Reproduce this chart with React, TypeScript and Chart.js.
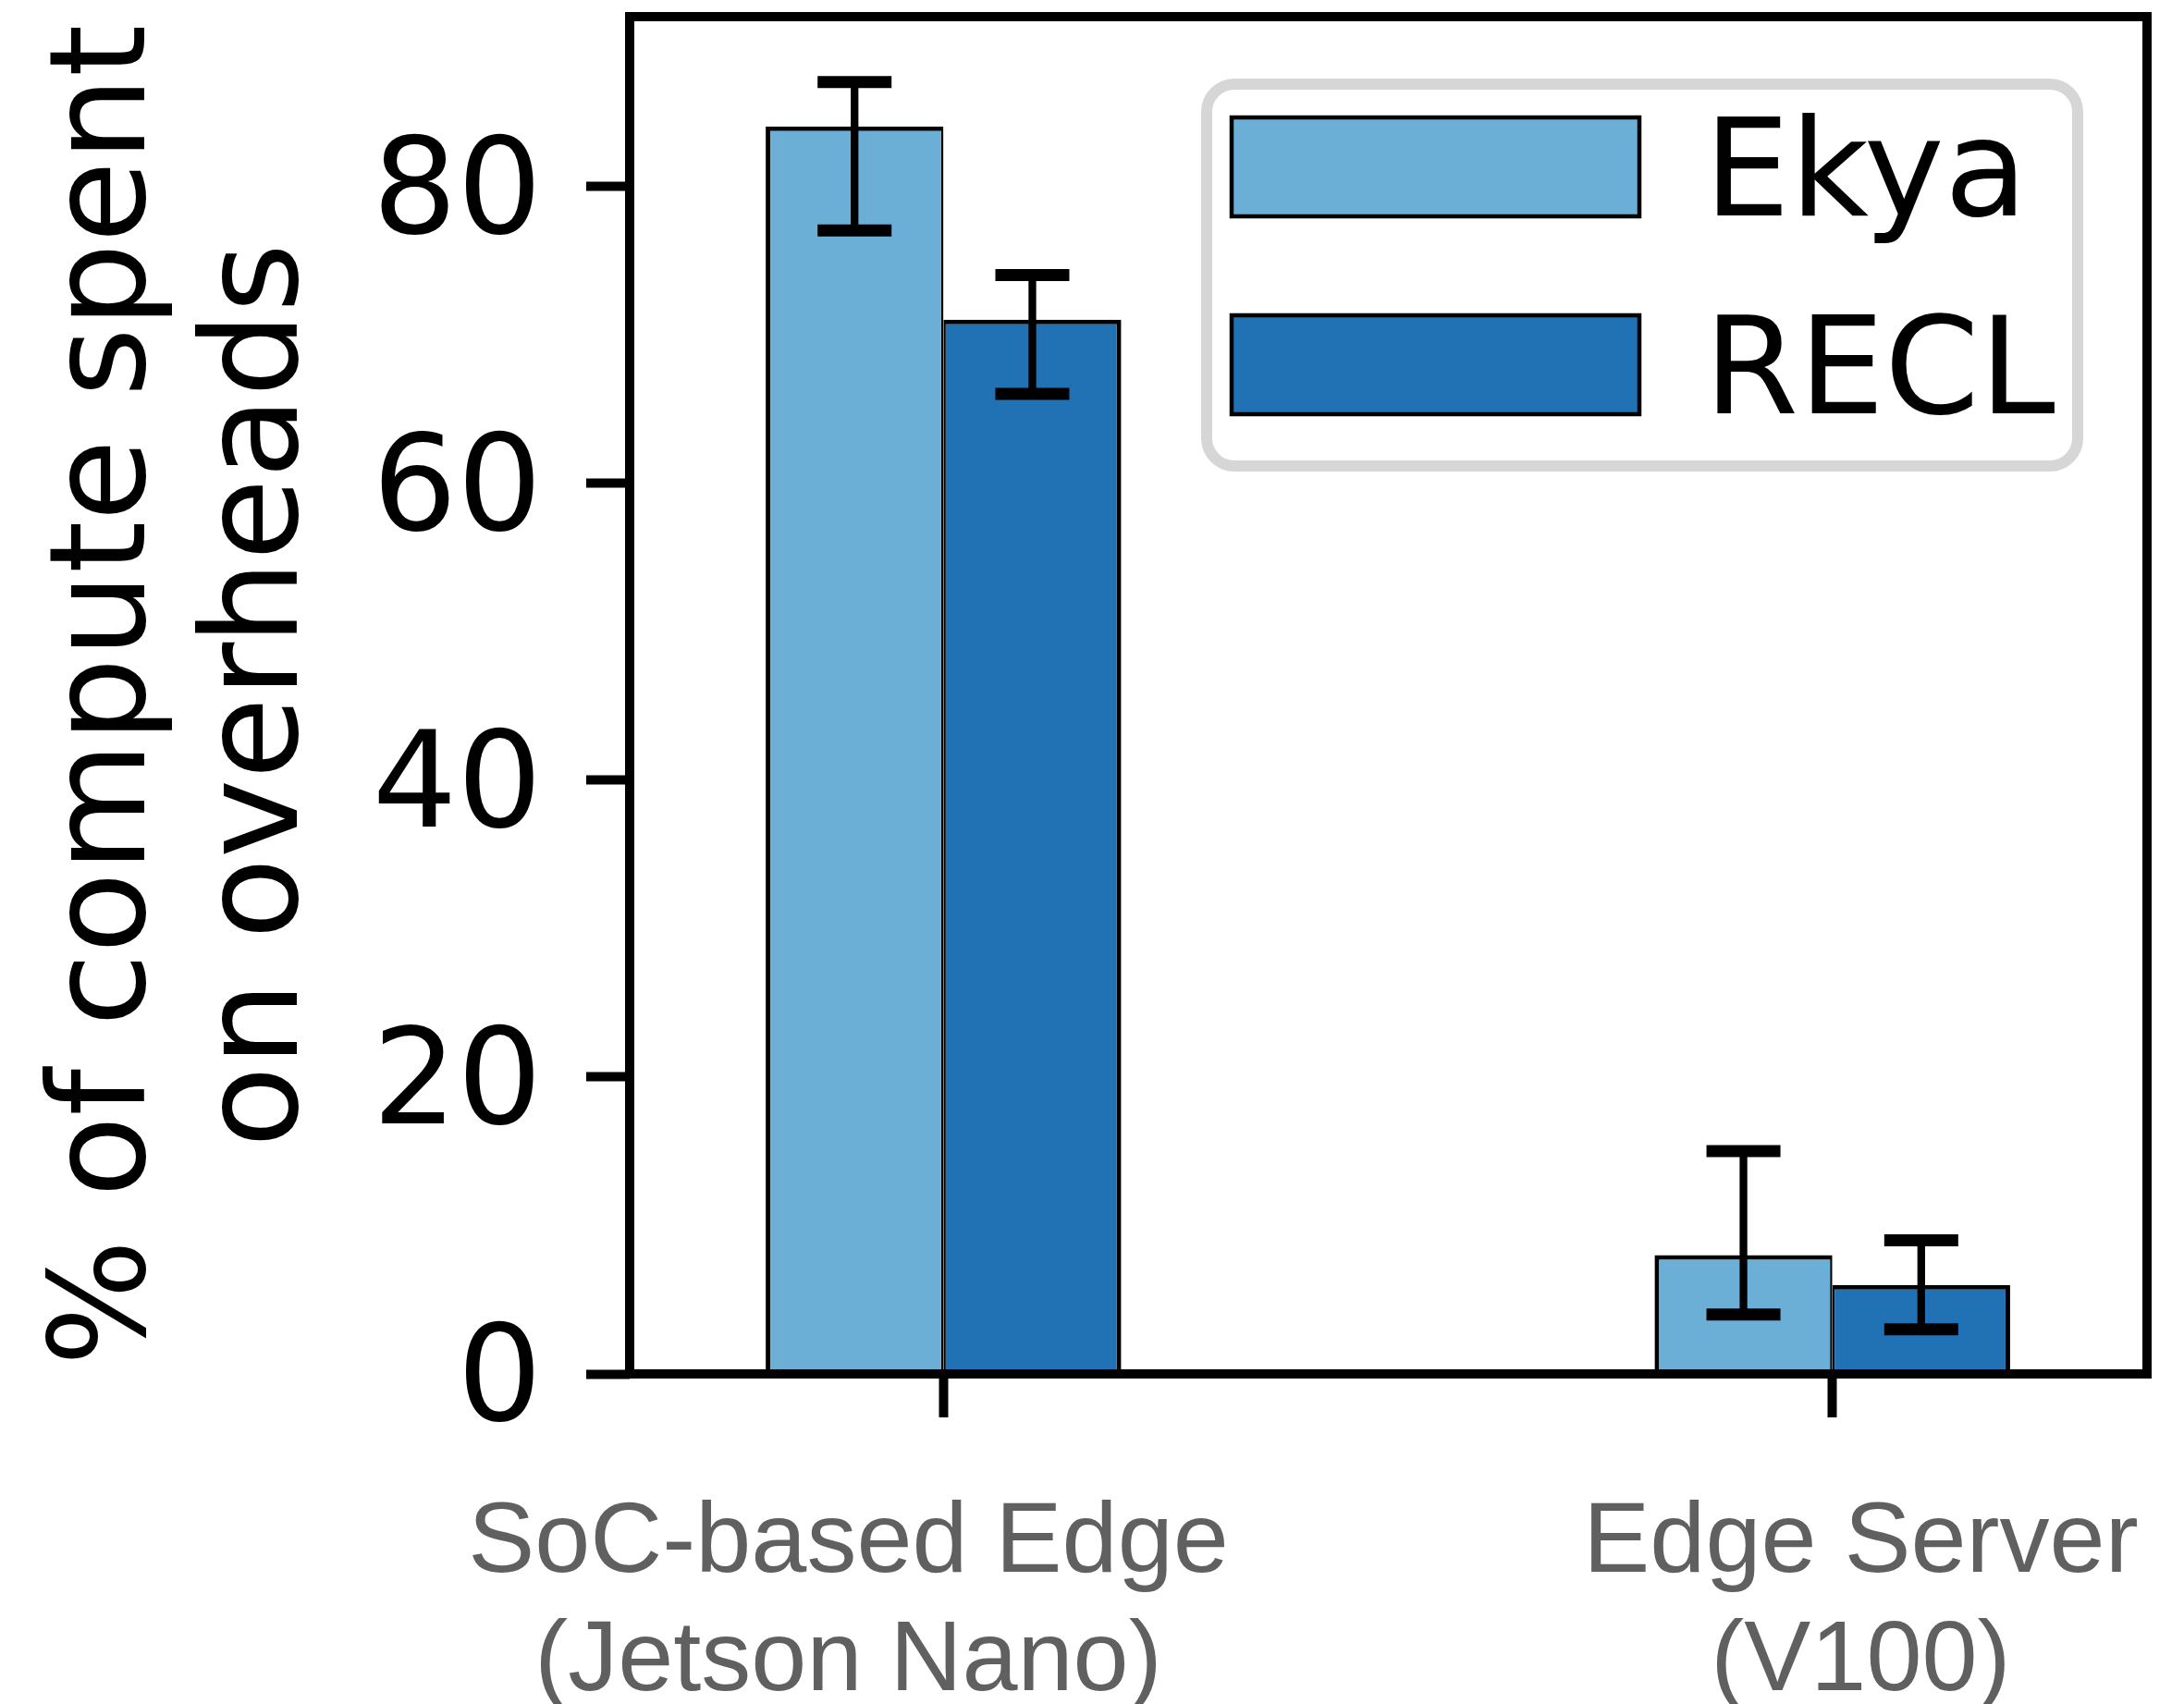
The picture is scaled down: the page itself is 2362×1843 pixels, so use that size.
import React, { useEffect, useRef } from 'react';
import { Chart, registerables } from 'chart.js';

Chart.register(...registerables);

// ---------- data ----------
const CATEGORIES: string[][] = [
  ['SoC-based Edge', '(Jetson Nano)'],
  ['Edge Server', '(V100)'],
];
const CATEGORY_X = [0, 1];
const SERIES_LABELS = ['Ekya', 'RECL'];
const EKYA = [84, 8];
const RECL = [71, 6];
const EKYA_LOW = [77, 4];
const EKYA_HIGH = [87, 15];
const RECL_LOW = [66, 3];
const RECL_HIGH = [74, 9];
const Y_TICKS = [0, 20, 40, 60, 80];

// ---------- layout / style ----------
const W = 2362;
const H = 1843;
const SERIES_COLORS = ['#6baed6', '#2171b5'];
const X_MIN = -0.353;
const X_MAX = 1.354;
const Y_MAX = 91.4;
const LABEL_SHIFT = [-0.107, 0.032];
const AREA_LEFT = 681;
const AREA_BOTTOM = 1486;
const TICK_LEN = 47;

function roundRectPath(ctx: CanvasRenderingContext2D, x: number, y: number, w: number, h: number, r: number) {
  ctx.beginPath();
  ctx.moveTo(x + r, y);
  ctx.arcTo(x + w, y, x + w, y + h, r);
  ctx.arcTo(x + w, y + h, x, y + h, r);
  ctx.arcTo(x, y + h, x, y, r);
  ctx.arcTo(x, y, x + w, y, r);
  ctx.closePath();
}

const framePlugin = {
  id: 'frame',
  afterDatasetsDraw(chart: any) {
    const { ctx, chartArea } = chart;
    ctx.save();
    ctx.strokeStyle = '#000';
    ctx.lineWidth = 10;
    ctx.lineJoin = 'miter';
    ctx.strokeRect(chartArea.left, chartArea.top, chartArea.right - chartArea.left, chartArea.bottom - chartArea.top);
    ctx.restore();
  },
};

const errorBarPlugin = {
  id: 'errorBars',
  afterDatasetsDraw(chart: any) {
    const ctx = chart.ctx;
    const yScale = chart.scales.y;
    chart.data.datasets.forEach((ds: any, i: number) => {
      const meta = chart.getDatasetMeta(i);
      meta.data.forEach((bar: any, j: number) => {
        const x = bar.x;
        const yl = yScale.getPixelForValue(ds.errLow[j]);
        const yh = yScale.getPixelForValue(ds.errHigh[j]);
        ctx.save();
        ctx.strokeStyle = '#000';
        ctx.lineCap = 'butt';
        ctx.lineWidth = 8.3;
        ctx.beginPath();
        ctx.moveTo(x, yl);
        ctx.lineTo(x, yh);
        ctx.stroke();
        ctx.lineWidth = 13;
        ctx.beginPath();
        ctx.moveTo(x - 40, yl);
        ctx.lineTo(x + 40, yl);
        ctx.moveTo(x - 40, yh);
        ctx.lineTo(x + 40, yh);
        ctx.stroke();
        ctx.restore();
      });
    });
  },
};

const legendPlugin = {
  id: 'boxLegend',
  afterDraw(chart: any) {
    const { ctx, chartArea } = chart;
    const fw = 942;
    const fh = 413;
    const fr = chartArea.right - 75;
    const ft = chartArea.top + 73;
    const fl = fr - fw;
    ctx.save();
    roundRectPath(ctx, fl, ft, fw, fh, 30);
    ctx.fillStyle = '#ffffff';
    ctx.fill();
    ctx.lineWidth = 12;
    ctx.strokeStyle = '#d6d6d6';
    ctx.stroke();
    chart.data.datasets.forEach((ds: any, i: number) => {
      const sx = fl + 27;
      const sy = ft + 36 + i * 214;
      const sw = 441;
      const sh = 107;
      ctx.fillStyle = ds.backgroundColor;
      ctx.fillRect(sx, sy, sw, sh);
      ctx.lineWidth = 4.5;
      ctx.strokeStyle = '#000';
      ctx.strokeRect(sx, sy, sw, sh);
      ctx.fillStyle = '#000';
      ctx.font = '147px "DejaVu Sans"';
      ctx.textBaseline = 'alphabetic';
      ctx.textAlign = 'left';
      ctx.fillText(ds.label, fl + 538, sy + sh / 2 + 52);
    });
    ctx.restore();
  },
};

export default function App() {
  const canvasRef = useRef<HTMLCanvasElement | null>(null);

  useEffect(() => {
    if (!canvasRef.current) return;
    const chart = new Chart(canvasRef.current, {
      type: 'bar',
      data: {
        datasets: [
          {
            label: SERIES_LABELS[0],
            data: CATEGORY_X.map((x, i) => ({ x, y: EKYA[i] })),
            backgroundColor: SERIES_COLORS[0],
            borderColor: '#000',
            borderWidth: { top: 5, left: 5, right: 2.5, bottom: 0 },
            borderSkipped: 'start',
            categoryPercentage: 0.4,
            barPercentage: 1,
            xAxisID: 'x',
            yAxisID: 'y',
            errLow: EKYA_LOW,
            errHigh: EKYA_HIGH,
          } as any,
          {
            label: SERIES_LABELS[1],
            data: CATEGORY_X.map((x, i) => ({ x, y: RECL[i] })),
            backgroundColor: SERIES_COLORS[1],
            borderColor: '#000',
            borderWidth: { top: 5, left: 2.5, right: 5, bottom: 0 },
            borderSkipped: 'start',
            categoryPercentage: 0.4,
            barPercentage: 1,
            xAxisID: 'x',
            yAxisID: 'y',
            errLow: RECL_LOW,
            errHigh: RECL_HIGH,
          } as any,
        ],
      },
      options: {
        responsive: false,
        devicePixelRatio: 1,
        animation: false,
        layout: { padding: { top: 18, right: 40, left: 0, bottom: 0 } },
        plugins: {
          legend: { display: false },
          tooltip: { enabled: false },
        },
        scales: {
          x: {
            type: 'linear',
            position: 'bottom',
            weight: 0,
            min: X_MIN,
            max: X_MAX,
            offset: false,
            afterBuildTicks: (s: any) => {
              s.ticks = CATEGORY_X.map((v) => ({ value: v }));
            },
            afterFit: (s: any) => {
              s.height = TICK_LEN;
              s.paddingLeft = 0;
              s.paddingRight = 0;
              s.paddingTop = 0;
              s.paddingBottom = 0;
            },
            grid: {
              display: true,
              offset: false,
              drawOnChartArea: false,
              drawTicks: true,
              tickLength: TICK_LEN,
              tickWidth: 10,
              tickColor: '#000',
            },
            border: { display: false },
            ticks: { display: false },
          },
          x2: {
            type: 'linear',
            position: 'bottom',
            weight: 1,
            min: X_MIN,
            max: X_MAX,
            offset: false,
            afterBuildTicks: (s: any) => {
              s.ticks = CATEGORY_X.map((v, i) => ({ value: v + LABEL_SHIFT[i] }));
            },
            afterFit: (s: any) => {
              s.height = H - AREA_BOTTOM - TICK_LEN;
              s.paddingLeft = 0;
              s.paddingRight = 0;
              s.paddingTop = 0;
              s.paddingBottom = 0;
            },
            grid: { display: false, drawTicks: false, offset: false },
            border: { display: false },
            ticks: {
              autoSkip: false,
              maxRotation: 0,
              minRotation: 0,
              padding: 73,
              color: '#606060',
              font: { family: 'Liberation Sans', size: 108, lineHeight: 1.185 },
              callback: (_v: any, i: number) => CATEGORIES[i],
            },
          },
          y: {
            type: 'linear',
            position: 'left',
            min: 0,
            max: Y_MAX,
            afterBuildTicks: (s: any) => {
              s.ticks = Y_TICKS.map((v) => ({ value: v }));
            },
            afterFit: (s: any) => {
              s.width = AREA_LEFT;
              s.paddingTop = 0;
              s.paddingBottom = 0;
              s.paddingLeft = 0;
              s.paddingRight = 0;
            },
            grid: {
              display: true,
              drawOnChartArea: false,
              drawTicks: true,
              tickLength: TICK_LEN,
              tickWidth: 10,
              tickColor: '#000',
            },
            border: { display: false },
            ticks: {
              color: '#000',
              padding: 48,
              labelOffset: 13,
              font: { family: 'DejaVu Sans', size: 144 },
            },
            title: {
              display: true,
              text: ['% of compute spent', 'on overheads'],
              color: '#000',
              font: { family: 'DejaVu Sans', size: 144, lineHeight: 1.14 },
              padding: { top: 37, bottom: 0 },
            },
          },
        } as any,
      },
      plugins: [framePlugin, errorBarPlugin, legendPlugin],
    });
    return () => chart.destroy();
  }, []);

  return (
    <div style={{ position: 'absolute', left: 0, top: 0, width: W, height: H, background: '#fff' }}>
      <canvas ref={canvasRef} width={W} height={H} style={{ display: 'block', width: W, height: H }} />
    </div>
  );
}
